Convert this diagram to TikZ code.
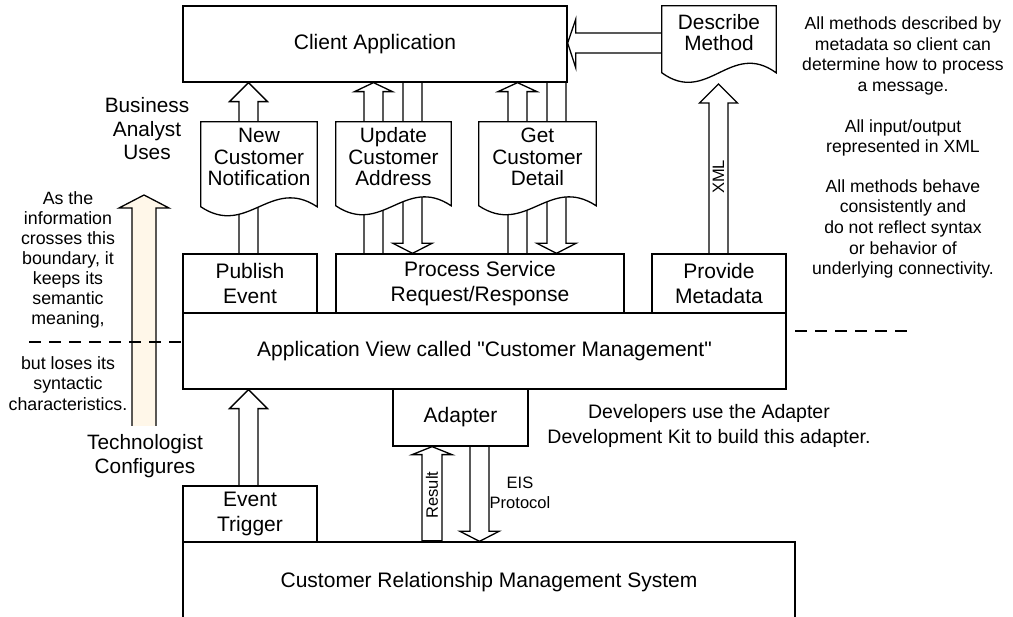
\documentclass[tikz,border=0pt]{standalone}
\usepackage{fontspec}
\setmainfont{Liberation Sans}
% same family without the TeX quote mapping, so " stays straight
\newfontfamily\plainsans{Liberation Sans}
\usetikzlibrary{calc}
\definecolor{tanfill}{RGB}{255,247,233}
\pgfdeclarelayer{arrows}
\pgfdeclarelayer{docs}
\pgfsetlayers{arrows,docs,main}

% hollow vertical block arrow: [style]{x}{shaft half width}{head half width}{head length}{tail}{tip}
\newcommand\upblock[7][]{%
  \draw[blk,#1] let \p1=(#6), \p2=(#7) in
    ({#2pt-#3pt},\y1) -- ({#2pt-#3pt},{\y2-#5pt}) -- ({#2pt-#4pt},{\y2-#5pt}) -- (#2pt,\y2)
    -- ({#2pt+#4pt},{\y2-#5pt}) -- ({#2pt+#3pt},{\y2-#5pt}) -- ({#2pt+#3pt},\y1);}
\newcommand\downblock[7][]{%
  \draw[blk,#1] let \p1=(#6), \p2=(#7) in
    ({#2pt-#3pt},\y1) -- ({#2pt-#3pt},{\y2+#5pt}) -- ({#2pt-#4pt},{\y2+#5pt}) -- (#2pt,\y2)
    -- ({#2pt+#4pt},{\y2+#5pt}) -- ({#2pt+#3pt},{\y2+#5pt}) -- ({#2pt+#3pt},\y1);}
% document outline with wavy bottom: {node}{side length below top}{wave depth}
\newcommand\docshape[3]{%
  \draw[docline] let \p1=(#1.north west), \p2=(#1.north east) in
    (\p1) -- (\p2) -- (\x2,{\y2-#2pt})
    .. controls ({\x1+0.6*(\x2-\x1)},{\y2-#2pt+#3pt}) and ({\x1+0.4*(\x2-\x1)},{\y2-#2pt-#3pt})
    .. (\x1,{\y1-#2pt}) -- cycle;}

\begin{document}
\begin{tikzpicture}[x=1pt,y=-1pt,
  box/.style={draw, line width=1.3pt, inner sep=0pt, align=center,
    font=\plainsans\fontsize{21}{25}\selectfont},
  docnode/.style={inner sep=0pt, align=center, font=\plainsans\fontsize{20.8}{21.5}\selectfont},
  docline/.style={draw, fill=white, line width=1.3pt},
  blk/.style={draw, fill=white, line width=1.3pt, line join=miter},
  bigtext/.style={inner sep=0pt, align=center, font=\plainsans\fontsize{20.8}{23.5}\selectfont},
  note/.style={inner sep=0pt, align=center, font=\plainsans\fontsize{17.6}{20.6}\selectfont},
  devtext/.style={inner sep=0pt, align=center, font=\plainsans\fontsize{19.5}{25}\selectfont},
  small/.style={inner sep=0pt, align=center, font=\plainsans\fontsize{16.5}{20}\selectfont},
  dashline/.style={line width=1.3pt, dash pattern=on 12pt off 8pt}]

\useasboundingbox (0,0) rectangle (1013,617);

% ---- boxes ----
\node[box, minimum width=384pt, minimum height=76pt] (client) at (375,44) {Client Application};
\node[docnode, minimum width=114pt, minimum height=53pt] (describe) at (719,32.5) {Describe\\Method};
\node[docnode, minimum width=116pt, minimum height=70pt] (ncn) at (259,157) {New\\Customer\\Notification};
\node[docnode, minimum width=115pt, minimum height=70pt] (update) at (393.5,157) {Update\\Customer\\Address};
\node[docnode, minimum width=117pt, minimum height=70pt] (get) at (537.5,157) {Get\\Customer\\Detail};
\node[box, minimum width=134pt, minimum height=59pt] (publish) at (250,283.5) {Publish\\Event};
\node[box, minimum width=288pt, minimum height=59pt] (process) at (480,283.5) {Process Service\\Request/Response};
\node[box, minimum width=134pt, minimum height=59pt] (provide) at (719,283.5) {Provide\\Metadata};
\node[box, minimum width=603pt, minimum height=76pt] (appview) at (484.5,351) {Application View called "Customer Management"};
\node[box, minimum width=135pt, minimum height=57pt] (adapter) at (460.5,417.5) {Adapter};
\node[box, minimum width=134pt, minimum height=56pt] (trigger) at (250,514) {Event\\Trigger};
\node[box, minimum width=612pt, minimum height=80pt] (crm) at (489,582) {Customer Relationship Management System};

\coordinate (xmltip) at (718.5,84);
\coordinate (techtail) at (144,426);
\coordinate (techtip) at (144,195);

% ---- document outlines ----
\begin{pgfonlayer}{docs}
  \docshape{describe}{67}{33}
  \docshape{ncn}{85}{31}
  \docshape{update}{84}{31}
  \docshape{get}{84}{31}
\end{pgfonlayer}

% ---- block arrows ----
\begin{pgfonlayer}{arrows}
  \fill[white] (0,0) rectangle (1013,617);
  \draw[blk] let \p1=(describe.west), \p2=(client.east) in
    (\x1,{\y2+11pt}) -- ({\x2+8pt},{\y2+11pt}) -- ({\x2+8pt},{\y2+24.5pt}) -- (\x2,{\y2+1pt})
    -- ({\x2+8pt},{\y2-23.5pt}) -- ({\x2+8pt},{\y2-9pt}) -- (\x1,{\y2-9pt});
  \upblock{248.5}{9.5}{19}{19}{publish.north}{client.south}
  \upblock{373.5}{9.5}{19}{9}{process.north}{client.south}
  \downblock{412.5}{9.5}{19.5}{10}{client.south}{process.north}
  \upblock{517.5}{9.5}{19.5}{9}{process.north}{client.south}
  \downblock{556.5}{9.5}{19.5}{10}{client.south}{process.north}
  \upblock{718.5}{9.5}{19}{19}{provide.north}{xmltip}
  \upblock{248.5}{9.5}{19}{19}{trigger.north}{appview.south}
  \upblock{432}{10}{20}{8}{crm.north}{adapter.south}
  \draw[line width=2.6pt] let \p1=(crm.north) in (422pt,\y1) -- (442pt,\y1);
  \downblock{479.5}{9.5}{19.5}{10}{adapter.south}{crm.north}
  \upblock[fill=tanfill]{144}{12}{25}{13}{techtail}{techtip}
\end{pgfonlayer}

% ---- boundary lines ----
\coordinate (dl) at (29,342);
\draw[dashline] (dl) -- (dl -| appview.west);
\coordinate (dr1) at (795,331);
\coordinate (dr2) at (907,331);
\draw[dashline] (dr1) -- (dr2);

% ---- labels ----
\node[small, rotate=90] (xmll) at (718.5,177) {XML};
\node[small, rotate=90] (resl) at (432,495) {Result};
\node[small] (eisl) at (520,493) {EIS\\Protocol};

\node[bigtext] (bau) at (147,129) {Business\\Analyst\\Uses};
\node[bigtext] (tech) at (145,456) {Technologist\\Configures};
\node[note, font=\plainsans\fontsize{17.8}{20}\selectfont] (cross1) at (68,260)
  {As the\\information\\crosses this\\boundary, it\\keeps its\\semantic\\meaning,};
\node[note, font=\plainsans\fontsize{17.8}{20.5}\selectfont] (cross2) at (68,383.5)
  {but loses its\\syntactic\\characteristics.};

\node[note] (n1) at (903,56) {All methods described by\\metadata so client can\\determine how to process\\a message.};
\node[note] (n2) at (903,138) {All input/output\\represented in XML};
\node[note] (n3) at (903,229) {All methods behave\\consistently and\\do not reflect syntax\\or behavior of\\underlying connectivity.};

\node[devtext] (dev) at (709,425.5) {Developers use the Adapter\\Development Kit to build this adapter.};
\end{tikzpicture}
\end{document}
